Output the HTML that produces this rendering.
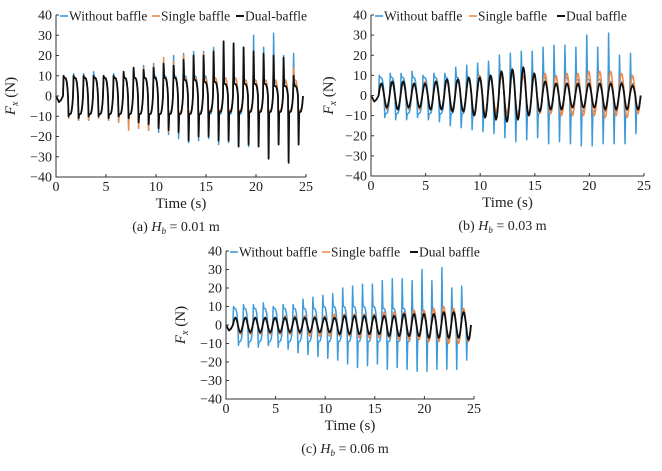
<!DOCTYPE html>
<html><head><meta charset="utf-8">
<style>
html,body{margin:0;padding:0;background:#fff;}
svg, svg text{font-family:"Liberation Serif","Times New Roman",serif;}
</style></head>
<body>
<svg id="chart" width="662" height="466" viewBox="0 0 662 466" xmlns="http://www.w3.org/2000/svg" font-family="Liberation Serif, serif"></svg>
<script>
// ---- data: per-cycle peak / trough values (N), 24 cycles, ~1 s period ----
const cycleStart = 0.7;
const cyclePeriod = 1.0;
const xTicks = [0,5,10,15,20,25];
const yTicks = [40,30,20,10,0,-10,-20,-30,-40];
const seriesNames = ["Without baffle","Single baffle","Dual baffle"];

const blueSpikeUp   = [10,11,11,12,10,11,11,14,15,16,17,20,21,22,22,24,25,25,24,30,24,31,20,21];
const blueSpikeDown = [-11,-12,-12,-11,-12,-13,-15,-16,-17,-18,-19,-21,-23,-22,-21,-24,-23,-24,-25,-25,-24,-24,-24,-19];
const bluePlatUp    = [9,9,9,9,9,9,9,9,9,10,10,10,10,10,10,9,9,9,8,8,8,7,7,6];
const bluePlatDown  = [-9,-9,-9,-9,-9,-9,-9,-9,-9,-9,-9,-9,-9,-9,-9,-9,-9,-9,-8,-8,-8,-8,-7,-7];

const aOrangeUp     = [10,10,10,10,10,10,11,12,14,15,19,17,20,19,21,19,19,18,18,17,18,17,16,14];
const aOrangeDown   = [-11,-12,-12,-11,-12,-13,-17,-16,-17,-15,-18,-17,-18,-18,-19,-18,-17,-18,-18,-17,-16,-16,-15,-12];
const aOrangePlatUp = [9,9,9,9,9,9,9,9,9,9,9,9,9,9,9,9,9,9,8,8,8,8,8,8];
const aOrangePlatDn = [-9,-9,-9,-9,-9,-9,-9,-9,-9,-9,-8,-8,-8,-8,-7,-7,-7,-7,-7,-7,-7,-7,-7,-7];
const aBlackUp      = [10,10,10,10,10,10,12,14,13,14,16,15,18,20,20,22,27,26,24,22,21,20,19,10];
const aBlackDown    = [-10,-11,-10,-10,-11,-10,-11,-13,-14,-16,-17,-18,-22,-20,-20,-22,-22,-25,-24,-25,-31,-24,-33,-24];
const aBlackPlatUp  = [9,9,9,9,9,9,9,9,9,9,9,9,8,8,7,7,6,6,6,6,6,5,5,5];
const aBlackPlatDn  = [-9,-9,-9,-9,-9,-9,-9,-9,-9,-9,-9,-9,-9,-9,-8,-8,-8,-8,-8,-8,-8,-8,-8,-8];

const bOrangeUp     = [6,6,6,6,7,7,8,8,9,10,9,10,12,10,11,11,10,11,11,12,12,12,11,10];
const bOrangeDown   = [-7,-7,-7,-7,-7,-7,-7,-8,-9,-9,-8,-9,-10,-10,-9,-9,-10,-10,-10,-10,-11,-10,-11,-9];
const bBlackUp      = [6,7,7,6,6,7,8,8,9,9,10,12,13,14,11,7,6,6,6,6,6,6,6,5];
const bBlackDown    = [-6,-7,-6,-6,-7,-7,-8,-8,-10,-11,-12,-13,-12,-10,-8,-7,-7,-6,-6,-6,-7,-7,-7,-7];

const cOrangeUp     = [4,4,4,4,4,5,5,5,5,5,6,6,6,6,6,7,7,7,8,8,9,10,9,9];
const cOrangeDown   = [-5,-5,-5,-5,-5,-5,-5,-6,-6,-6,-6,-6,-7,-7,-7,-7,-8,-8,-8,-9,-9,-10,-10,-9];
const cBlackUp      = [4,4,4,4,4,4,4,4,4,4,4,5,5,5,5,5,5,6,6,6,6,7,7,7];
const cBlackDown    = [-4,-4,-4,-4,-4,-4,-4,-4,-4,-4,-5,-5,-5,-5,-5,-6,-6,-6,-6,-7,-7,-7,-7,-8];

const COLORS = ["#3d9ad8","#f08a4b","#111111"];
const svg = document.getElementById('chart');
const NS = "http://www.w3.org/2000/svg";
const FF = "Liberation Serif, serif";
function mk(tag, attrs, parent){
  const e = document.createElementNS(NS, tag);
  for (const k in attrs) e.setAttribute(k, attrs[k]);
  if (tag==='text') e.setAttribute('font-family', FF);
  (parent||svg).appendChild(e);
  return e;
}

// half-cycle shape templates (phase fraction, weight)
const spikyShape = [[0.0,'z'],[0.06,'s'],[0.12,'p'],[0.2,1.0],[0.3,0.95],[0.38,0.75],[0.45,0.4]];
function cyclePoints(up, down, platUp, platDn, sx, sy){
  const pts = [[0,0],[0.3,-3],[0.5,-2]];
  for (let k=0;k<up.length;k++){
    const t = cycleStart + k*cyclePeriod;
    [[up[k], platUp ? platUp[k] : null, 0],[down[k], platDn ? platDn[k] : null, 0.5]].forEach(([spk, plat, off])=>{
      if (plat === null){
        for (let j=0;j<8;j++){
          const f = j/8;
          pts.push([t+off+f*0.5, spk*Math.sin(Math.PI*f)]);
        }
      } else {
        spikyShape.forEach(([f,w])=>{
          let v = w==='z'?0 : w==='s'? spk : w==='p'? plat : plat*w;
          pts.push([t+off+f, v]);
        });
      }
    });
  }
  pts.push([cycleStart+up.length*cyclePeriod, 0]);
  return pts.map(p=>sx(p[0]).toFixed(1)+","+sy(p[1]).toFixed(1)).join(" ");
}

function panel(id, box, series, caption, sep, ylabX){
  const g = mk('g', {});
  
  
  const sx = t => box.x0 + (t/25)*(box.x1-box.x0);
  const syy = v => box.ya + ((40-v)/80)*(box.yb-box.ya);
  series.forEach((s,i)=>{
    const pl = mk('polyline', {points: cyclePoints(s.up,s.down,s.pu,s.pd,sx,syy), fill:'none', stroke:COLORS[i], 'stroke-width': i==2?1.8:1.5, 'stroke-linejoin':'round'}, g);
    
    
  });
  const ax = mk('path', {d:`M${box.x0},${box.ya} V${box.yb} H${box.x1}`, stroke:'#333', fill:'none', 'stroke-width':1}, g);
  
  
  xTicks.forEach(t=>{
    mk('line',{x1:sx(t),x2:sx(t),y1:box.yb,y2:box.yb-3,stroke:'#333'},g);
    const tx = mk('text',{x:sx(t),y:box.yb+14,'font-size':14,'text-anchor':'middle',fill:'#222'},g);
    tx.textContent = t;
    
    
  });
  yTicks.forEach(v=>{
    mk('line',{x1:box.x0,x2:box.x0+3,y1:syy(v),y2:syy(v),stroke:'#333'},g);
    const tx = mk('text',{x:box.x0-4,y:syy(v)+4.5,'font-size':14,'text-anchor':'end',fill:'#222'},g);
    tx.textContent = v<0 ? '\u2212'+(-v) : v;
    
    
  });
  const xt = mk('text',{x:(box.x0+box.x1)/2,y:box.yb+31,'font-size':15,'text-anchor':'middle',fill:'#222'},g);
  xt.textContent = 'Time (s)';
  
  
  const cy = (box.ya+box.yb)/2;
  const ytt = mk('text',{x:ylabX,y:cy,'font-size':15,'text-anchor':'middle',fill:'#222',transform:`rotate(-90 ${ylabX} ${cy})`},g);
  ytt.innerHTML = '<tspan font-style="italic">F</tspan><tspan font-style="italic" font-size="10" dy="3">x</tspan><tspan dy="-3"> (N)</tspan>';
  
  
  let lx = box.x0 + 4;
  const names = [seriesNames[0], seriesNames[1], sep];
  names.forEach((n,i)=>{
    const lg = mk('g',{},g);
    
    
    mk('line',{x1:lx,x2:lx+8,y1:box.ya+1,y2:box.ya+1,stroke:COLORS[i],'stroke-width':i==2?2:1.6},lg);
    const t = mk('text',{x:lx+9,y:box.ya+5.5,'font-size':13.5,fill:'#222'},lg);
    t.textContent = n;
    lx += box.lw[i];
  });
  const cap = mk('text',{x:(box.x0+box.x1)/2 - 5,y:box.yb+54,'font-size':14,'text-anchor':'middle',fill:'#222'},g);
  cap.innerHTML = caption;
  
  
}

panel('a', {x0:56,x1:306,ya:15,yb:177,lw:[92,84,80]},
  [{up:blueSpikeUp,down:blueSpikeDown,pu:bluePlatUp,pd:bluePlatDown},
   {up:aOrangeUp,down:aOrangeDown,pu:aOrangePlatUp,pd:aOrangePlatDn},
   {up:aBlackUp,down:aBlackDown,pu:aBlackPlatUp,pd:aBlackPlatDn}],
  '(a) <tspan font-style="italic">H</tspan><tspan font-style="italic" font-size="9" dy="3">b</tspan><tspan dy="-3"> = 0.01 m</tspan>', 'Dual-baffle', 15);

panel('b', {x0:371,x1:644,ya:15,yb:176,lw:[94,88,80]},
  [{up:blueSpikeUp,down:blueSpikeDown,pu:bluePlatUp,pd:bluePlatDown},
   {up:bOrangeUp,down:bOrangeDown},
   {up:bBlackUp,down:bBlackDown}],
  '(b) <tspan font-style="italic">H</tspan><tspan font-style="italic" font-size="9" dy="3">b</tspan><tspan dy="-3"> = 0.03 m</tspan>', 'Dual baffle', 333);

panel('c', {x0:226,x1:474,ya:251,yb:399,lw:[92,88,80]},
  [{up:blueSpikeUp,down:blueSpikeDown,pu:bluePlatUp,pd:bluePlatDown},
   {up:cOrangeUp,down:cOrangeDown},
   {up:cBlackUp,down:cBlackDown}],
  '(c) <tspan font-style="italic">H</tspan><tspan font-style="italic" font-size="9" dy="3">b</tspan><tspan dy="-3"> = 0.06 m</tspan>', 'Dual baffle', 185);
</script>
</body></html>
